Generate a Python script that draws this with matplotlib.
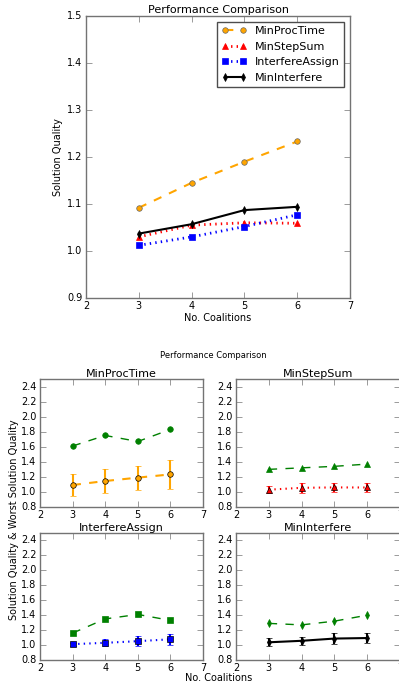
import matplotlib
matplotlib.use('Agg')
import matplotlib.pyplot as plt

plt.style.use('classic')

coalitions = [3, 4, 5, 6]

# top chart: mean solution quality
proc_time = [1.092, 1.145, 1.190, 1.233]
step_sum = [1.030, 1.055, 1.060, 1.059]
interf_assign = [1.012, 1.030, 1.052, 1.077]
min_interf = [1.037, 1.057, 1.087, 1.094]

# bottom charts: mean, error and worst solution quality
proc_time_err = [0.145, 0.165, 0.16, 0.19]
proc_time_worst = [1.61, 1.75, 1.67, 1.83]
step_sum_err = [0.05, 0.065, 0.065, 0.06]
step_sum_worst = [1.30, 1.32, 1.34, 1.37]
interf_assign_err = [0.02, 0.045, 0.065, 0.07]
interf_assign_worst = [1.16, 1.35, 1.41, 1.33]
min_interf_err = [0.055, 0.055, 0.07, 0.07]
min_interf_worst = [1.29, 1.27, 1.32, 1.40]

W, H = 399, 688
fig = plt.figure(figsize=(W / 100.0, H / 100.0), dpi=100, facecolor='white')
frame = '0.45'

def px_axes(l, t, r, b):
    a = fig.add_axes([l / W, 1 - b / H, (r - l) / W, (b - t) / H])
    for s in a.spines.values():
        s.set_color(frame)
    a.tick_params(labelsize=7, pad=2.5, color=frame)
    return a

ax = px_axes(86, 16, 350, 298)
ax.plot(coalitions, proc_time, 'o--', color='orange', lw=1.5, ms=4, mec='0.4', label='MinProcTime')
ax.plot(coalitions, step_sum, '^:', color='r', lw=2, ms=4, mec='r', label='MinStepSum')
ax.plot(coalitions, interf_assign, 's:', color='b', lw=2, ms=4, mec='b', label='InterfereAssign')
ax.plot(coalitions, min_interf, 'd-', color='k', lw=1.5, ms=4, label='MinInterfere')
ax.set_xlim(2, 7)
ax.set_ylim(0.9, 1.5)
ax.set_title('Performance Comparison', fontsize=8, pad=2)
ax.set_xlabel('No. Coalitions', fontsize=7, labelpad=1)
ax.set_ylabel('Solution Quality', fontsize=7, labelpad=3)
leg = ax.legend(loc='upper right', fontsize=8, handlelength=2.2, borderpad=0.4, labelspacing=0.5)
leg.get_frame().set_edgecolor('0.3')

panels = [
    ('MinProcTime', proc_time, proc_time_err, proc_time_worst, 'o', '--', 'orange', (40, 379, 203, 507)),
    ('MinStepSum', step_sum, step_sum_err, step_sum_worst, '^', ':', 'r', (236, 379, 400, 507)),
    ('InterfereAssign', interf_assign, interf_assign_err, interf_assign_worst, 's', ':', 'b', (40, 533, 203, 660)),
    ('MinInterfere', min_interf, min_interf_err, min_interf_worst, 'd', '-', 'k', (236, 533, 400, 660)),
]

for name, mean, err, worst, mk, ls, col, box in panels:
    a = px_axes(*box)
    a.plot(coalitions, worst, marker=mk, ls='--', color='g', lw=1, ms=4, mec='g')
    a.errorbar(coalitions, mean, yerr=err, marker=mk, ls=ls, color=col, lw=1.5, ms=4,
               elinewidth=1.5, capsize=2)
    a.set_xlim(2, 7)
    a.set_ylim(0.8, 2.5)
    a.set_yticks([0.8, 1.0, 1.2, 1.4, 1.6, 1.8, 2.0, 2.2, 2.4])
    a.set_title(name, fontsize=8, pad=1.5)

fig.text(213 / W, 1 - 356 / H, 'Performance Comparison', ha='center', va='center', fontsize=6)
fig.text(219 / W, 1 - 678 / H, 'No. Coalitions', ha='center', va='center', fontsize=7)
fig.text(14 / W, 1 - 520 / H, 'Solution Quality & Worst Solution Quality', ha='center', va='center',
         rotation=90, fontsize=7)

fig.savefig('out.png', dpi=100, facecolor='white')
